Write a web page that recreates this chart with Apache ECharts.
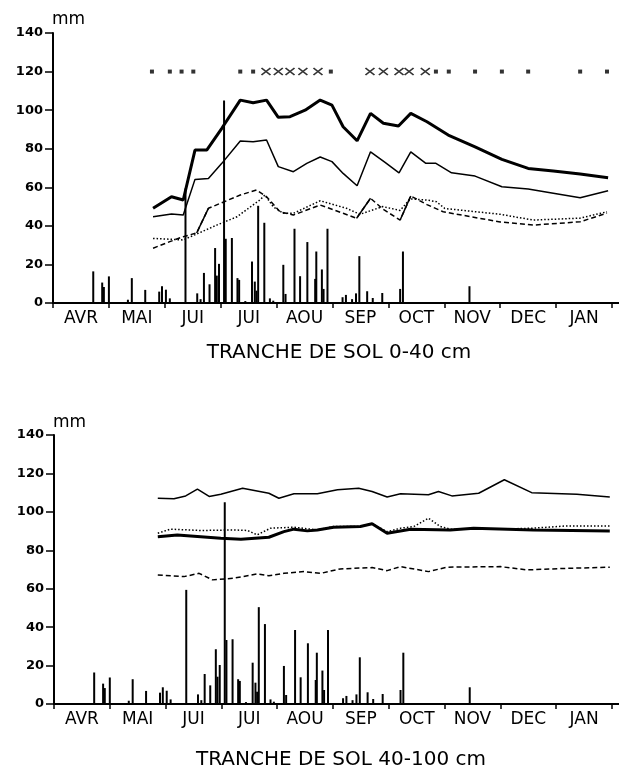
<!DOCTYPE html>
<html><head><meta charset="utf-8">
<script src="https://cdn.jsdelivr.net/npm/echarts@6/dist/echarts.min.js"></script>
<style>html,body{margin:0;padding:0;background:#fff}#c{width:619px;height:769px}</style>
</head><body><div id="c"></div>
<script>
// x unit: months since 1 April (0 = 1 Apr, 10 = 1 Feb)
const monthLabels = ['AVR','MAI','JUI','JUI','AOU','SEP','OCT','NOV','DEC','JAN'];
const monthTicks = [0,1,2,3,4,5,6,7,8,9,10];
const monthLabelPos = [0.5,1.5,2.5,3.5,4.5,5.5,6.5,7.5,8.5,9.5];

// daily rainfall (mm)
const rain = [[0.72,16.4],[0.88,10.6],[0.91,8.3],[1.00,13.8],[1.34,1.7],[1.41,12.9],[1.65,6.8],[1.90,5.9],[1.95,8.7],[2.02,6.9],[2.09,2.4],
[2.37,59.4],[2.58,5],[2.64,2],[2.70,15.6],[2.80,9.7],[2.90,28.5],[2.93,14.2],[2.97,20.3],[3.06,105],[3.09,33.3],[3.20,33.7],[3.30,12.9],[3.33,12],[3.44,1],
[3.56,21.5],[3.61,11.1],[3.64,6.4],[3.67,50.4],[3.78,41.6],[3.88,2.4],[3.94,1.2],[4.12,19.8],[4.16,4.7],[4.32,38.5],[4.42,13.9],[4.55,31.6],[4.69,12.5],[4.71,26.7],
[4.81,17.4],[4.84,7.3],[4.91,38.5],[5.18,3],[5.24,4.2],[5.35,2],[5.42,5],[5.48,24.3],[5.62,6.1],[5.72,2.6],[5.89,5.2],[6.21,7.3],[6.26,26.7],[7.45,8.7]];

// soil layer 0-40 cm
const top_thick = [[1.79,49.1],[2.12,55.1],[2.33,53.4],[2.54,79.3],[2.75,79.3],[3.02,90.6],[3.35,105.2],[3.58,103.8],[3.82,105.2],[4.03,96.3],[4.24,96.6],[4.51,100],[4.78,105.2],[4.99,102.6],[5.19,91.4],[5.44,84.1],[5.68,98.3],[5.91,93.2],[6.18,91.8],[6.40,98.3],[6.69,94],[7.07,87.1],[7.55,81],[8.03,74.5],[8.50,69.8],[8.95,68.4],[9.43,66.9],[9.93,65]];
const top_thin = [[1.79,44.7],[2.12,46.1],[2.33,45.6],[2.54,64.1],[2.78,64.6],[3.02,72.4],[3.35,84],[3.58,83.6],[3.82,84.5],[4.03,70.7],[4.30,68.1],[4.54,72.4],[4.78,75.7],[4.99,73.3],[5.19,67.2],[5.44,60.8],[5.68,78.4],[5.94,72.9],[6.19,67.5],[6.40,78.4],[6.67,72.4],[6.85,72.4],[7.13,67.5],[7.55,65.8],[8.03,60.3],[8.50,59.1],[8.95,56.9],[9.43,54.6],[9.93,58.2]];
const top_dashed = [[1.79,28.4],[2.09,31.8],[2.33,34.4],[2.57,36.3],[2.78,49.1],[3.02,52],[3.35,56],[3.64,58.6],[3.82,55.1],[4.06,47.3],[4.30,45.6],[4.78,50.8],[5.19,46.5],[5.43,43.9],[5.68,54.3],[5.91,48.5],[6.21,43],[6.40,55.5],[6.69,51],[6.98,47.3],[8.00,42],[8.59,40.4],[9.43,42.1],[9.91,46.6]];
const top_dotted = [[1.79,33.5],[2.33,32.7],[2.93,40.4],[3.29,44.7],[3.70,53.4],[3.79,56],[3.94,49.9],[4.12,46.5],[4.30,46.5],[4.78,53],[5.25,49.1],[5.49,46],[5.90,50],[6.21,48],[6.39,54],[6.69,53.4],[6.86,52.5],[7.01,49],[8.00,46],[8.59,43],[9.43,44],[9.91,47.3]];
const top_solidSegments = [[[2.57,36.3],[2.78,49.1]],[[5.43,43.9],[5.68,54.3]],[[6.21,43],[6.40,55.5]]];
const markerLevel = 120;
const dotDays = [1.77,2.09,2.30,2.51,3.35,3.58,4.97,6.85,7.08,7.55,8.03,8.50,9.43,9.91];
const crossDays = [3.81,4.03,4.24,4.47,4.74,5.67,5.91,6.19,6.37,6.66];

// soil layer 40-100 cm
const bot_thin = [[1.86,107.1],[2.15,106.8],[2.36,108.3],[2.57,111.8],[2.78,108],[2.99,109.2],[3.38,112.3],[3.85,109.7],[4.03,107.1],[4.30,109.4],[4.72,109.4],[5.08,111.5],[5.46,112.3],[5.70,110.6],[5.97,107.7],[6.21,109.4],[6.71,108.9],[6.89,110.6],[7.13,108.3],[7.61,109.7],[8.07,116.7],[8.56,110],[9.37,109.2],[9.96,107.7]];
const bot_thick = [[1.86,87.1],[2.21,88],[2.99,86.3],[3.35,85.8],[3.85,86.8],[4.12,89.7],[4.30,91],[4.54,90.1],[4.72,90.6],[5.01,92],[5.49,92.4],[5.70,93.8],[5.97,88.9],[6.39,91],[7.10,90.6],[7.52,91.5],[8.59,90.6],[9.96,90.1]];
const bot_dotted = [[1.86,88.9],[2.09,91],[2.63,90.3],[3.23,90.6],[3.47,90.3],[3.64,88],[3.88,91.5],[4.30,92],[4.72,90.6],[5.01,92.4],[5.46,92.4],[5.70,93.8],[5.97,89.7],[6.21,91.5],[6.45,92.4],[6.71,96.7],[6.92,92.4],[7.10,91],[8.00,91],[8.59,91.5],[9.19,92.7],[9.96,92.7]];
const bot_dashed = [[1.86,67.2],[2.33,66.3],[2.60,68],[2.84,64.6],[3.23,65.5],[3.64,67.7],[3.85,66.7],[4.12,68],[4.48,68.9],[4.78,68],[5.13,70.3],[5.70,71],[5.97,69.4],[6.21,71.5],[6.71,68.9],[7.04,71.2],[8.00,71.5],[8.47,69.8],[9.19,70.6],[9.96,71.2]];

const FONT = 'DejaVu Sans';
function xAx(i){ return {
  type:'value', gridIndex:i, min:0, max:10.125,
  axisLine:{show:true, lineStyle:{color:'#000', width:2}},
  axisTick:{show:true, customValues:monthTicks, length:5, lineStyle:{color:'#000', width:1.5}},
  axisLabel:{show:true, customValues:monthLabelPos, formatter:v=>monthLabels[Math.floor(v)]||'', color:'#000', fontSize:17, fontFamily:FONT, margin:7},
  splitLine:{show:false}
};}
function yAx(i){ return {
  type:'value', gridIndex:i, min:0, max:140, interval:20,
  axisLine:{show:true, lineStyle:{color:'#000', width:2}},
  axisTick:{show:true, length:8, lineStyle:{color:'#000', width:1.5}},
  axisLabel:{color:'#000', fontSize:13, fontWeight:'bold', fontFamily:FONT, margin:10},
  splitLine:{show:false}
};}
function line(data, i, width, type){ return {
  type:'line', xAxisIndex:i, yAxisIndex:i, data:data, symbol:'none', smooth:false,
  lineStyle:{color:'#000', width:width, type:type}, z:3
};}
function bars(i){ return {type:'bar', xAxisIndex:i, yAxisIndex:i, data:rain, barWidth:2, itemStyle:{color:'#000'}, z:2}; }

const series = [
  bars(0),
  line(top_thick,0,3,'solid'),
  line(top_thin,0,1.5,'solid'),
  line(top_dashed,0,1.5,[5,3]),
  line(top_dotted,0,1.5,[1.5,2]),
  ...top_solidSegments.map(s=>line(s,0,1.5,'solid')),
  {type:'scatter', xAxisIndex:0, yAxisIndex:0, data:dotDays.map(d=>[d,markerLevel]), symbol:'rect', symbolSize:4, itemStyle:{color:'#000'}},
  {type:'scatter', xAxisIndex:0, yAxisIndex:0, data:crossDays.map(d=>[d,markerLevel]), symbol:'path://M0,0L10,8M0,8L10,0', symbolSize:[9,7], itemStyle:{color:'transparent', borderColor:'#000', borderWidth:1.5}},
  bars(1),
  line(bot_thin,1,1.5,'solid'),
  line(bot_thick,1,3,'solid'),
  line(bot_dotted,1,1.5,[1.5,2]),
  line(bot_dashed,1,1.5,[5,3])
];

const chart = echarts.init(document.getElementById('c'), null, {renderer:'canvas'});
chart.setOption({
  backgroundColor:'#fff',
  animation:false,
  grid:[{left:53, top:33, width:566, height:270},{left:54, top:435, width:566, height:269}],
  xAxis:[xAx(0), xAx(1)],
  yAxis:[yAx(0), yAx(1)],
  series:series,
  graphic:[
    {type:'text', x:52, y:20, style:{text:'mm', fill:'#000', font:'17px "DejaVu Sans"', align:'left', verticalAlign:'middle'}},
    {type:'text', x:53, y:423, style:{text:'mm', fill:'#000', font:'17px "DejaVu Sans"', align:'left', verticalAlign:'middle'}},
    {type:'text', x:339, y:353, style:{text:'TRANCHE DE SOL 0-40 cm', fill:'#000', font:'20px "DejaVu Sans"', align:'center', verticalAlign:'middle'}},
    {type:'text', x:341, y:760, style:{text:'TRANCHE DE SOL 40-100 cm', fill:'#000', font:'20px "DejaVu Sans"', align:'center', verticalAlign:'middle'}}
  ]
});
</script></body></html>
